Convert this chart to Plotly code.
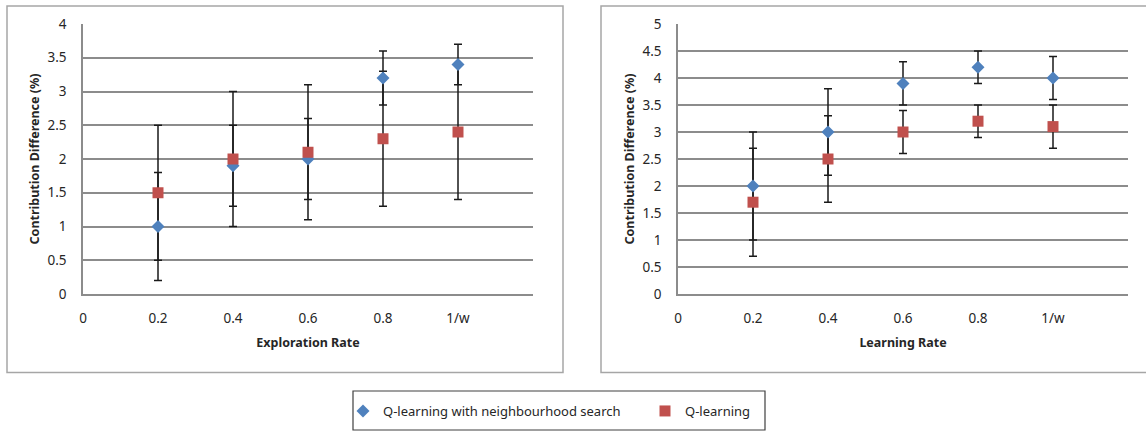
import plotly.graph_objects as go

# ---------------- data ----------------
x_vals = [0.2, 0.4, 0.6, 0.8, 1.0]
x_tick_vals = [0, 0.2, 0.4, 0.6, 0.8, 1.0]
x_tick_text = ["0", "0.2", "0.4", "0.6", "0.8", "1/w"]

series_names = ["Q-learning with neighbourhood search", "Q-learning"]

# Left chart: Exploration Rate
expl_nbr = [1.0, 1.9, 2.0, 3.2, 3.4]
expl_nbr_err = [0.8, 0.6, 0.6, 0.4, 0.3]
expl_q = [1.5, 2.0, 2.1, 2.3, 2.4]
expl_q_err = [1.0, 1.0, 1.0, 1.0, 1.0]

# Right chart: Learning Rate
learn_nbr = [2.0, 3.0, 3.9, 4.2, 4.0]
learn_nbr_err = [1.0, 0.8, 0.4, 0.3, 0.4]
learn_q = [1.7, 2.5, 3.0, 3.2, 3.1]
learn_q_err = [1.0, 0.8, 0.4, 0.3, 0.4]

left_yticks = [0, 0.5, 1, 1.5, 2, 2.5, 3, 3.5, 4]
right_yticks = [0, 0.5, 1, 1.5, 2, 2.5, 3, 3.5, 4, 4.5, 5]

# ---------------- style ----------------
W, H = 1146, 432
BLUE = "#4F81BD"
RED = "#C0504D"
GRID = "#8c8c8c"
FONT = "Noto Sans"
TXT = "#262626"


def px(x):
    return x / W


def py(y):
    return 1 - y / H


fig = go.Figure()


def add_chart(xa, ya, nbr, nbr_err, q, q_err, show_legend):
    # error bars first (drawn beneath markers)
    for vals, errs in ((nbr, nbr_err), (q, q_err)):
        fig.add_trace(go.Scatter(
            x=x_vals, y=vals, mode="markers", xaxis=xa, yaxis=ya,
            marker=dict(size=1, color="rgba(0,0,0,0)"),
            error_y=dict(type="data", array=errs, visible=True,
                         color="#1a1a1a", thickness=1.5, width=4),
            showlegend=False, hoverinfo="skip"))
    fig.add_trace(go.Scatter(
        x=x_vals, y=nbr, mode="markers", xaxis=xa, yaxis=ya,
        name=series_names[0], legendgroup="nbr", showlegend=show_legend,
        marker=dict(symbol="diamond", size=10, color=BLUE, line=dict(width=0))))
    fig.add_trace(go.Scatter(
        x=x_vals, y=q, mode="markers", xaxis=xa, yaxis=ya,
        name=series_names[1], legendgroup="q", showlegend=show_legend,
        marker=dict(symbol="square", size=11, color=RED, line=dict(width=0))))


add_chart("x", "y", expl_nbr, expl_nbr_err, expl_q, expl_q_err, True)
add_chart("x2", "y2", learn_nbr, learn_nbr_err, learn_q, learn_q_err, False)

tickfont = dict(family=FONT, size=13.5, color=TXT)
titlefont = dict(family=FONT, size=12.5, color=TXT, weight="bold")

xcommon = dict(range=[0, 1.2], tickvals=x_tick_vals, ticktext=x_tick_text,
               showgrid=False, zeroline=False, showline=True,
               linecolor=GRID, linewidth=1.5, ticks="outside", ticklen=0,
               ticklabelstandoff=11, tickfont=tickfont, fixedrange=True,
               automargin=False)
ycommon = dict(showgrid=True, gridcolor=GRID, gridwidth=1.5, zeroline=False,
               showline=True, linecolor=GRID, linewidth=1.5, ticks="outside",
               ticklen=0, ticklabelstandoff=12, tickfont=tickfont,
               fixedrange=True, automargin=False)

fig.update_layout(
    width=W, height=H,
    margin=dict(l=0, r=0, t=0, b=0, pad=0, autoexpand=False),
    paper_bgcolor="white", plot_bgcolor="white",
    font=dict(family=FONT, color=TXT),
    xaxis=dict(domain=[px(83), px(533)], anchor="y",
               title=dict(text="Exploration Rate", font=titlefont, standoff=12),
               **xcommon),
    yaxis=dict(domain=[py(294), py(24)], anchor="x", range=[0, 4],
               tickvals=left_yticks,
               ticktext=[f"{v:g}" for v in left_yticks],
               title=dict(text="Contribution Difference (%)", font=titlefont,
                          standoff=5),
               **ycommon),
    xaxis2=dict(domain=[px(678), px(1128)], anchor="y2",
                title=dict(text="Learning Rate", font=titlefont, standoff=12),
                **xcommon),
    yaxis2=dict(domain=[py(294), py(24)], anchor="x2", range=[0, 5],
                tickvals=right_yticks,
                ticktext=[f"{v:g}" for v in right_yticks],
                title=dict(text="Contribution Difference (%)", font=titlefont,
                           standoff=5),
                **ycommon),
    legend=dict(orientation="h", x=px(343), xanchor="left", y=py(411),
                yanchor="middle", bgcolor="rgba(0,0,0,0)", borderwidth=0,
                font=dict(family=FONT, size=13, color=TXT),
                entrywidth=257, itemwidth=30, tracegroupgap=0),
    shapes=[
        dict(type="rect", xref="paper", yref="paper",
             x0=px(7), x1=px(563), y0=py(372.5), y1=py(6),
             line=dict(color="#a6a6a6", width=1.5), layer="below"),
        dict(type="rect", xref="paper", yref="paper",
             x0=px(601), x1=px(1148), y0=py(372.5), y1=py(6),
             line=dict(color="#a6a6a6", width=1.5), layer="below"),
        dict(type="rect", xref="paper", yref="paper",
             x0=px(353), x1=px(765), y0=py(430), y1=py(391),
             line=dict(color="#404040", width=1.2), layer="below"),
    ],
)

fig.write_html(
    "out.html",
    config={"displayModeBar": False},
    post_script="document.body.style.margin='0px';"
                "document.body.style.overflow='hidden';")
